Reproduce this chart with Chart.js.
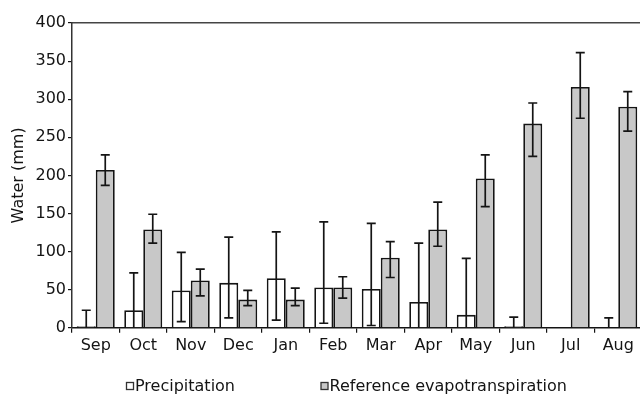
<!DOCTYPE html>
<html>
<head>
<meta charset="utf-8">
<script src="https://cdn.jsdelivr.net/npm/chart.js@4.4.1/dist/chart.umd.min.js"></script>
<style>
  html, body { margin: 0; padding: 0; background: #fff; overflow: hidden; }
  #wrap { position: relative; width: 645px; height: 395px; }
</style>
</head>
<body>
<div id="wrap"><canvas id="c"></canvas></div>
<script>
// ---- data ----
const months = ['Sep', 'Oct', 'Nov', 'Dec', 'Jan', 'Feb', 'Mar', 'Apr', 'May', 'Jun', 'Jul', 'Aug'];
const seriesNames = ['Precipitation', 'Reference evapotranspiration'];
const precipitation = [2, 23, 49, 59, 65, 53, 51, 34, 17, 2, 0, 0];
const precipitationHigh = [23, 72, 99, 119, 126, 139, 137, 111, 91, 14, null, 13];
const precipitationLow = [0, 0, 8, 13, 10, 6, 3, 0, 0, 0, null, 0];
const evapotranspiration = [207, 129, 62, 37, 37, 53, 92, 129, 196, 268, 316, 290];
const evapotranspirationHigh = [227, 149, 77, 49, 52, 67, 113, 165, 227, 295, 361, 310];
const evapotranspirationLow = [187, 111, 42, 29, 29, 39, 66, 107, 159, 225, 275, 258];
const yTicks = [0, 50, 100, 150, 200, 250, 300, 350, 400];

const FONT = '"DejaVu Sans", "Liberation Sans", Arial, sans-serif';
const INK = '#141414';

const errorBars = {
  id: 'errorBars',
  afterDatasetsDraw(chart) {
    const ctx = chart.ctx;
    const ys = chart.scales.y;
    const sets = [[precipitationHigh, precipitationLow], [evapotranspirationHigh, evapotranspirationLow]];
    const cap = 4.5;
    ctx.save();
    ctx.strokeStyle = INK;
    ctx.lineWidth = 1.7;
    sets.forEach(([hi, lo], di) => {
      const meta = chart.getDatasetMeta(di);
      meta.data.forEach((bar, i) => {
        if (hi[i] == null) return;
        const x = bar.x;
        const yh = ys.getPixelForValue(hi[i]);
        const yl = ys.getPixelForValue(lo[i]);
        ctx.beginPath();
        ctx.moveTo(x, yh); ctx.lineTo(x, yl);
        ctx.moveTo(x - cap, yh); ctx.lineTo(x + cap, yh);
        if (lo[i] > 0) { ctx.moveTo(x - cap, yl); ctx.lineTo(x + cap, yl); }
        ctx.stroke();
      });
    });
    ctx.restore();
  }
};

const customLegend = {
  id: 'customLegend',
  afterDraw(chart) {
    const ctx = chart.ctx;
    const box = 7, gap = 1.5, spacing = 86;
    let x = 126.5;
    const y = 386;
    ctx.save();
    ctx.font = '16px ' + FONT;
    ctx.textBaseline = 'middle';
    ctx.textAlign = 'left';
    chart.data.datasets.forEach(ds => {
      ctx.fillStyle = ds.backgroundColor;
      ctx.fillRect(x, y - box / 2, box, box);
      ctx.strokeStyle = '#333';
      ctx.lineWidth = 1.3;
      ctx.strokeRect(x, y - box / 2, box, box);
      ctx.fillStyle = INK;
      ctx.fillText(ds.label, x + box + gap, y + 0.5);
      x += box + gap + ctx.measureText(ds.label).width + spacing;
    });
    ctx.restore();
  }
};

new Chart(document.getElementById('c'), {
  type: 'bar',
  data: {
    labels: months,
    datasets: [
      {
        label: seriesNames[0],
        data: precipitation,
        backgroundColor: '#ffffff',
        borderColor: INK,
        borderWidth: 1.8,
        categoryPercentage: 0.8,
        barPercentage: 1.0
      },
      {
        label: seriesNames[1],
        data: evapotranspiration,
        backgroundColor: '#c8c8c8',
        borderColor: INK,
        borderWidth: 1.8,
        categoryPercentage: 0.8,
        barPercentage: 1.0
      }
    ]
  },
  options: {
    responsive: true,
    maintainAspectRatio: false,
    animation: false,
    layout: { padding: { top: 23, right: 3, bottom: 37, left: 0 } },
    plugins: {
      legend: { display: false },
      tooltip: { enabled: false }
    },
    scales: {
      x: {
        offset: true,
        grid: { offset: true, drawOnChartArea: false, drawTicks: true, tickLength: 5, color: INK, lineWidth: 1.2 },
        border: { display: true, color: INK, width: 1.5 },
        ticks: { color: INK, font: { family: FONT, size: 16 }, padding: 3, maxRotation: 0 }
      },
      x2: {
        position: 'top',
        labels: months,
        grid: { display: false, drawTicks: false },
        border: { display: true, color: '#444', width: 1.5 },
        ticks: { display: false },
        afterFit(s) { s.height = 0; }
      },
      y: {
        min: 0,
        max: 400,
        afterBuildTicks(s) { s.ticks = yTicks.map(v => ({ value: v })); },
        grid: { drawOnChartArea: false, drawTicks: true, tickLength: 4, color: INK, lineWidth: 1.2 },
        border: { display: true, color: '#333', width: 1.5 },
        ticks: { color: INK, font: { family: FONT, size: 16 }, padding: 2 },
        title: { display: true, text: 'Water (mm)', color: INK, font: { family: FONT, size: 16 }, padding: { top: 9, bottom: 0 } },
        afterFit(s) { s.width = 72; }
      }
    }
  },
  plugins: [errorBars, customLegend]
});
</script>
</body>
</html>
